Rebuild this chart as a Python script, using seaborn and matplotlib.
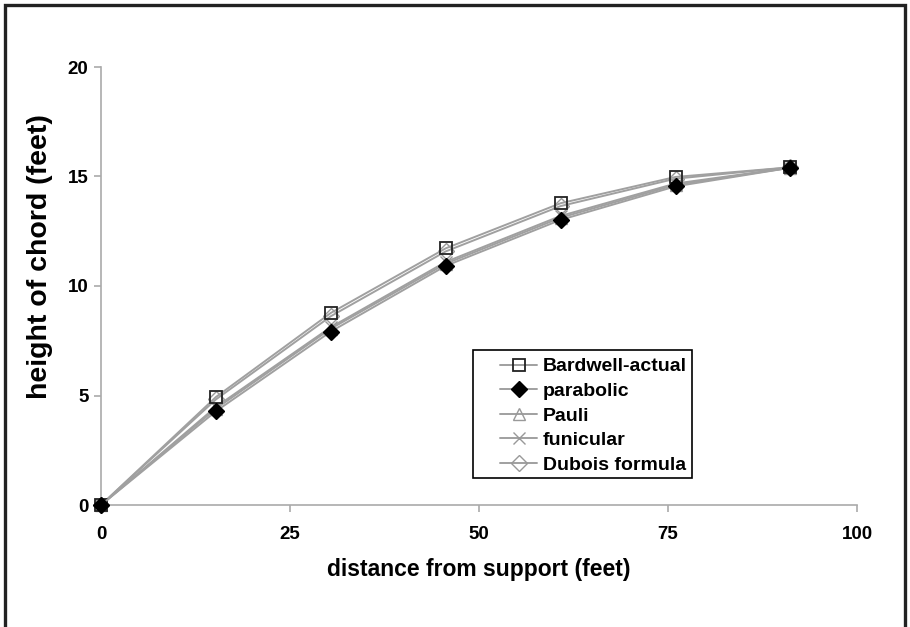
import matplotlib
matplotlib.use("Agg")
import matplotlib.pyplot as plt
import seaborn as sns
import pandas as pd
from matplotlib.patches import Rectangle

distance = [0, 15.2, 30.4, 45.6, 60.8, 76.0, 91.2]
bardwell_actual = [0, 4.93, 8.77, 11.72, 13.78, 14.98, 15.42]
parabolic = [0, 4.28, 7.92, 10.92, 13.02, 14.55, 15.40]
pauli = [0, 4.40, 8.05, 11.02, 13.12, 14.62, 15.40]
funicular = [0, 4.48, 8.12, 11.10, 13.20, 14.68, 15.40]
dubois = [0, 4.82, 8.62, 11.58, 13.65, 14.90, 15.42]

series = ["Bardwell-actual", "parabolic", "Pauli", "funicular", "Dubois formula"]
values = [bardwell_actual, parabolic, pauli, funicular, dubois]

sns.set_theme(style="white")
plt.rcParams["font.family"] = ["Liberation Sans", "DejaVu Sans"]
plt.rcParams["font.weight"] = "bold"
plt.rcParams["text.color"] = "black"
plt.rcParams["axes.labelcolor"] = "black"
plt.rcParams["xtick.labelcolor"] = "black"
plt.rcParams["ytick.labelcolor"] = "black"

fig = plt.figure(figsize=(9.1, 6.27), dpi=100)
ax = fig.add_axes([101/910, 1-505/627, 756/910, 438/627])

styles = {
    "Bardwell-actual": dict(marker="s", mfc="none", mec="#222222", ms=9, mew=1.3),
    "parabolic": dict(marker="D", mfc="black", mec="black", ms=8, mew=1),
    "Pauli": dict(marker="^", mfc="none", mec="#999999", ms=9, mew=1),
    "funicular": dict(marker="x", mfc="none", mec="#999999", ms=9, mew=1),
    "Dubois formula": dict(marker="D", mfc="none", mec="#999999", ms=8, mew=1),
}

frames = []
for name, vals in zip(series, values):
    frames.append(pd.DataFrame({"distance": distance, "height": vals, "series": name}))
df = pd.concat(frames, ignore_index=True)

draw_order = ["Dubois formula", "funicular", "Pauli", "Bardwell-actual", "parabolic"]
for name in draw_order:
    sub = df[df["series"] == name]
    st = styles[name]
    sns.lineplot(data=sub, x="distance", y="height", ax=ax, color="#a0a0a0",
                 linewidth=1.4, marker=st["marker"], markersize=st["ms"],
                 markerfacecolor=st["mfc"], markeredgecolor=st["mec"],
                 markeredgewidth=st["mew"], label=name, zorder=3, clip_on=False)

ax.set_xlim(0, 100)
ax.set_ylim(0, 20)
ax.set_xticks([0, 25, 50, 75, 100])
ax.set_yticks([0, 5, 10, 15, 20])
for s in ["top", "right"]:
    ax.spines[s].set_visible(False)
for s in ["left", "bottom"]:
    ax.spines[s].set_color("#aaaaaa")
    ax.spines[s].set_linewidth(1.2)
ax.tick_params(axis="both", direction="out", length=5, width=1.2, color="#aaaaaa",
               labelsize=13.5, bottom=True, left=True)
ax.tick_params(axis="x", pad=10)
ax.tick_params(axis="y", pad=4)
for lbl in ax.get_xticklabels() + ax.get_yticklabels():
    lbl.set_fontweight("bold")
ax.set_xlabel("distance from support (feet)", fontsize=16.5, fontweight="bold", labelpad=11)
ax.set_ylabel("height of chord (feet)", fontsize=20.5, fontweight="bold")
ax.yaxis.set_label_coords(-0.064, 0.568)

# legend frame box
ax.add_patch(Rectangle((0.492, 0.062), 0.29, 0.292, transform=ax.transAxes,
                       fill=True, facecolor="white", edgecolor="black",
                       linewidth=1.2, zorder=5, clip_on=False))

h, l = ax.get_legend_handles_labels()
hd = dict(zip(l, h))
leg = ax.legend([hd[n] for n in series], series, loc="upper left",
                bbox_to_anchor=(0.528, 0.336), frameon=False,
                prop={"weight": "bold", "size": 14}, handlelength=1.9,
                borderpad=0.0, labelspacing=0.36, handletextpad=0.3,
                borderaxespad=0)
leg.set_zorder(6)
for t in leg.get_texts():
    t.set_color("black")

fig.patches.append(Rectangle((5/910, -0.1), 900/910, 1.1 - 5/627, transform=fig.transFigure,
                             fill=False, edgecolor="#222222", linewidth=2.4, clip_on=False))

fig.savefig("out.png", dpi=100)
